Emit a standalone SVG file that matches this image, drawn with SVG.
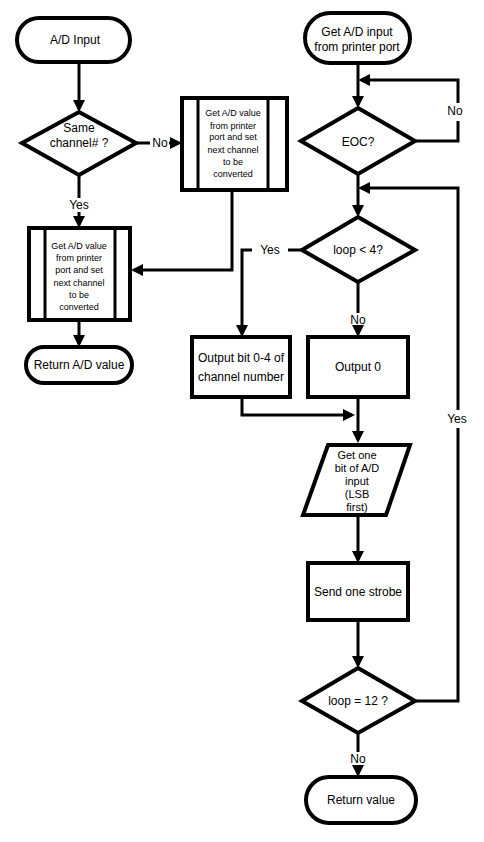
<svg xmlns="http://www.w3.org/2000/svg" width="484" height="842" viewBox="0 0 484 842">
<defs>
<marker id="ah" viewBox="0 0 12 12" refX="9" refY="6" markerWidth="12" markerHeight="12" markerUnits="userSpaceOnUse" orient="auto">
<path d="M0,0 L12,6 L0,12 Z" fill="#000"/>
</marker>
<style>
.sh{fill:#fff;stroke:#000;stroke-width:4;stroke-linejoin:miter}
.in{stroke:#000;stroke-width:3;fill:none}
.cn{fill:none;stroke:#000;stroke-width:3;marker-end:url(#ah)}
.ln{fill:none;stroke:#000;stroke-width:3}
.t{font-family:"Liberation Sans",Arial,sans-serif;font-size:12px;fill:#000;text-anchor:middle}
.p{font-family:"Liberation Sans",Arial,sans-serif;font-size:11px;fill:#000;text-anchor:middle}
.s{font-family:"Liberation Sans",Arial,sans-serif;font-size:9px;fill:#000;text-anchor:middle}
</style>
</defs>
<rect width="484" height="842" fill="#fff"/>

<g id="connectors">
<path class="cn" d="M79,62 V109"/>
<path class="ln" d="M136,143 H150"/>
<path class="cn" d="M169,143 H179"/>
<path class="ln" d="M79,175 V198"/>
<path class="cn" d="M79,212 V225"/>
<path class="cn" d="M232,190 V270 H134"/>
<path class="cn" d="M79,320 V344"/>
<path class="cn" d="M358,63 V105"/>
<path class="ln" d="M415,141 H458 V121"/>
<path class="cn" d="M458,103 V80 H361"/>
<path class="cn" d="M358,174 V214"/>
<path class="ln" d="M302,250 H288"/>
<path class="cn" d="M252,250 H242 V334"/>
<path class="ln" d="M358,282 V313"/>
<path class="cn" d="M358,327 V334"/>
<path class="cn" d="M242,397 V415 H352"/>
<path class="cn" d="M358,397 V440"/>
<path class="cn" d="M358,515 V560"/>
<path class="cn" d="M358,620 V665"/>
<path class="ln" d="M415,701 H458 V428"/>
<path class="cn" d="M458,410 V188 H361"/>
<path class="ln" d="M358,733 V752"/>
<path class="cn" d="M358,766 V774"/>
<text class="t" x="160" y="147">No</text>
<text class="t" x="79" y="209">Yes</text>
<text class="t" x="455" y="115">No</text>
<text class="t" x="270" y="254">Yes</text>
<text class="t" x="358" y="324">No</text>
<text class="t" x="457" y="423">Yes</text>
<text class="t" x="358" y="763">No</text>
</g>

<g id="ad-input">
<rect class="sh" x="17" y="18" width="113" height="44" rx="22"/>
<text class="t" x="75" y="44">A/D Input</text>
</g>

<g id="same-channel">
<polygon class="sh" points="79,112 136,143 79,175 22,143"/>
<text class="t" x="79" y="132">Same</text>
<text class="t" x="79" y="147">channel# ?</text>
</g>

<g id="get-ad-value-right">
<rect class="sh" x="182" y="98" width="105" height="92"/>
<line class="in" x1="198" y1="98" x2="198" y2="190"/>
<line class="in" x1="268" y1="98" x2="268" y2="190"/>
<text class="s" x="233" y="116">Get A/D value</text>
<text class="s" x="233" y="129">from printer</text>
<text class="s" x="233" y="140">port and set</text>
<text class="s" x="233" y="153">next channel</text>
<text class="s" x="233" y="165">to be</text>
<text class="s" x="233" y="177">converted</text>
</g>

<g id="get-ad-value-left">
<rect class="sh" x="29" y="228" width="101" height="92"/>
<line class="in" x1="45" y1="228" x2="45" y2="320"/>
<line class="in" x1="115" y1="228" x2="115" y2="320"/>
<text class="s" x="79" y="249">Get A/D value</text>
<text class="s" x="79" y="261">from printer</text>
<text class="s" x="79" y="273">port and set</text>
<text class="s" x="79" y="286">next channel</text>
<text class="s" x="79" y="298">to be</text>
<text class="s" x="79" y="310">converted</text>
</g>

<g id="return-ad-value">
<rect class="sh" x="26" y="347" width="106" height="36" rx="18"/>
<text class="t" x="79" y="369">Return A/D value</text>
</g>

<g id="get-ad-input">
<rect class="sh" x="305" y="13" width="105" height="50" rx="25"/>
<text class="t" x="357" y="36">Get A/D input</text>
<text class="t" x="357" y="51">from printer port</text>
</g>

<g id="eoc">
<polygon class="sh" points="358,108 415,141 358,174 301,141"/>
<text class="t" x="358" y="146">EOC?</text>
</g>

<g id="loop-lt-4">
<polygon class="sh" points="358,217 415,250 358,282 302,250"/>
<text class="t" x="358" y="254">loop &lt; 4?</text>
</g>

<g id="output-bit">
<rect class="sh" x="192" y="337" width="98" height="60"/>
<text class="t" x="241" y="362">Output bit 0-4 of</text>
<text class="t" x="241" y="381">channel number</text>
</g>

<g id="output-0">
<rect class="sh" x="308" y="337" width="100" height="60"/>
<text class="t" x="358" y="371">Output 0</text>
</g>

<g id="get-one-bit">
<polygon class="sh" points="328,445 410,445 386,515 303,515"/>
<text class="p" x="357" y="459">Get one</text>
<text class="p" x="357" y="472">bit of A/D</text>
<text class="p" x="357" y="485">input</text>
<text class="p" x="357" y="498">(LSB</text>
<text class="p" x="357" y="511">first)</text>
</g>

<g id="send-strobe">
<rect class="sh" x="308" y="563" width="100" height="57"/>
<text class="t" x="358" y="596">Send one strobe</text>
</g>

<g id="loop-eq-12">
<polygon class="sh" points="358,668 415,701 358,733 302,701"/>
<text class="t" x="358" y="705">loop = 12 ?</text>
</g>

<g id="return-value">
<rect class="sh" x="306" y="777" width="110" height="46" rx="23"/>
<text class="t" x="361" y="804">Return value</text>
</g>
</svg>
